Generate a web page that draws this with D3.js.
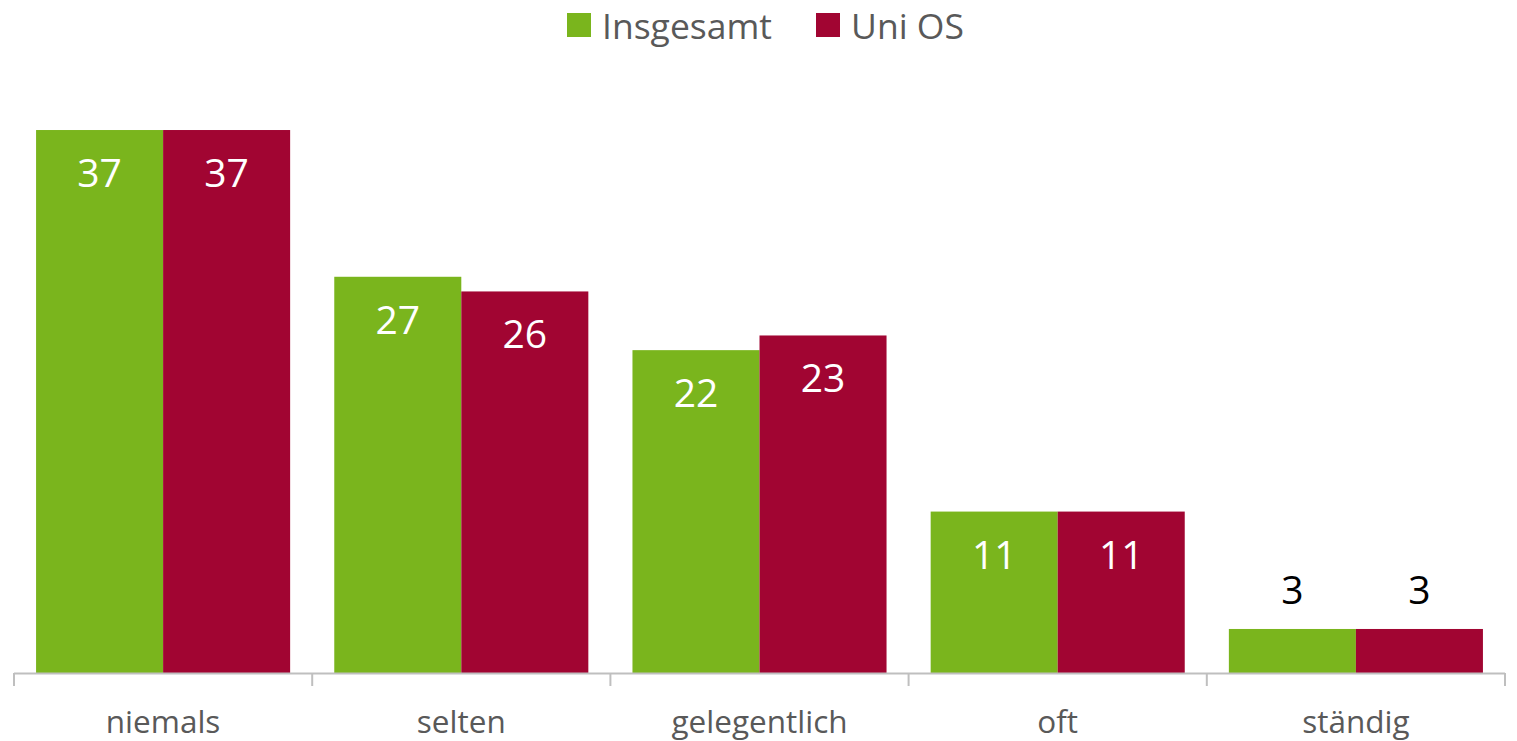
<!DOCTYPE html>
<html><head><meta charset="utf-8">
<script src="https://cdn.jsdelivr.net/npm/d3@7"></script>
<style>body{margin:0;background:#fff}svg{display:block}</style>
</head><body>
<svg id="c" width="1517" height="741"></svg>
<script>
const categories = ["niemals","selten","gelegentlich","oft","ständig"];
const seriesNames = ["Insgesamt","Uni OS"];
const insgesamt = [37,27,22,11,3];
const uniOS = [37,26,23,11,3];
const colors = ["#7AB51D","#A10532"];
const font = "'Open Sans', sans-serif";

const svg = d3.select("#c");
const x = d3.scaleBand().domain(categories).range([14,1505]).paddingInner(0.148).paddingOuter(0.074);
const x1 = d3.scaleBand().domain(seriesNames).range([0, x.bandwidth()]);
const y = d3.scaleLinear().domain([0,40]).range([673, 86]);

const data = categories.map((c,i)=>({c, vals:[insgesamt[i], uniOS[i]]}));

const g = svg.append("g");
data.forEach(d=>{
  d.vals.forEach((v,j)=>{
    const bx = x(d.c)+x1(seriesNames[j]);
    g.append("rect").attr("x",bx).attr("y",y(v)).attr("width",x1.bandwidth()).attr("height",y(0)-y(v)).attr("fill",colors[j]);
    const inside = v > 5;
    g.append("text").attr("x",bx+x1.bandwidth()/2)
      .attr("y", inside ? y(v)+57 : y(v)-25)
      .attr("text-anchor","middle").attr("font-family",font).attr("font-size",39)
      .attr("fill", inside ? "#fff" : "#000").text(v);
  });
});

// axis
const ticks = d3.range(categories.length+1).map(i=>14 + i*(1505-14)/categories.length);
svg.append("line").attr("x1",14).attr("x2",1505).attr("y1",673.5).attr("y2",673.5).attr("stroke","#BFBFBF").attr("stroke-width",2);
ticks.forEach(t=>svg.append("line").attr("x1",t).attr("x2",t).attr("y1",673).attr("y2",686).attr("stroke","#BFBFBF").attr("stroke-width",2));
categories.forEach(c=>{
  svg.append("text").attr("x",x(c)+x.bandwidth()/2).attr("y",733).attr("text-anchor","middle")
    .attr("font-family",font).attr("font-size",31.5).attr("fill","#595959").text(c);
});

// legend
const leg = [{n:seriesNames[0],sx:567,tx:602},{n:seriesNames[1],sx:816,tx:851}];
leg.forEach((l,i)=>{
  svg.append("rect").attr("x",l.sx).attr("y",13).attr("width",24).attr("height",24).attr("fill",colors[i]);
  svg.append("text").attr("x",l.tx).attr("y",38.5).attr("font-family",font).attr("font-size",35.5).attr("fill","#595959").text(l.n);
});
</script>
</body></html>
